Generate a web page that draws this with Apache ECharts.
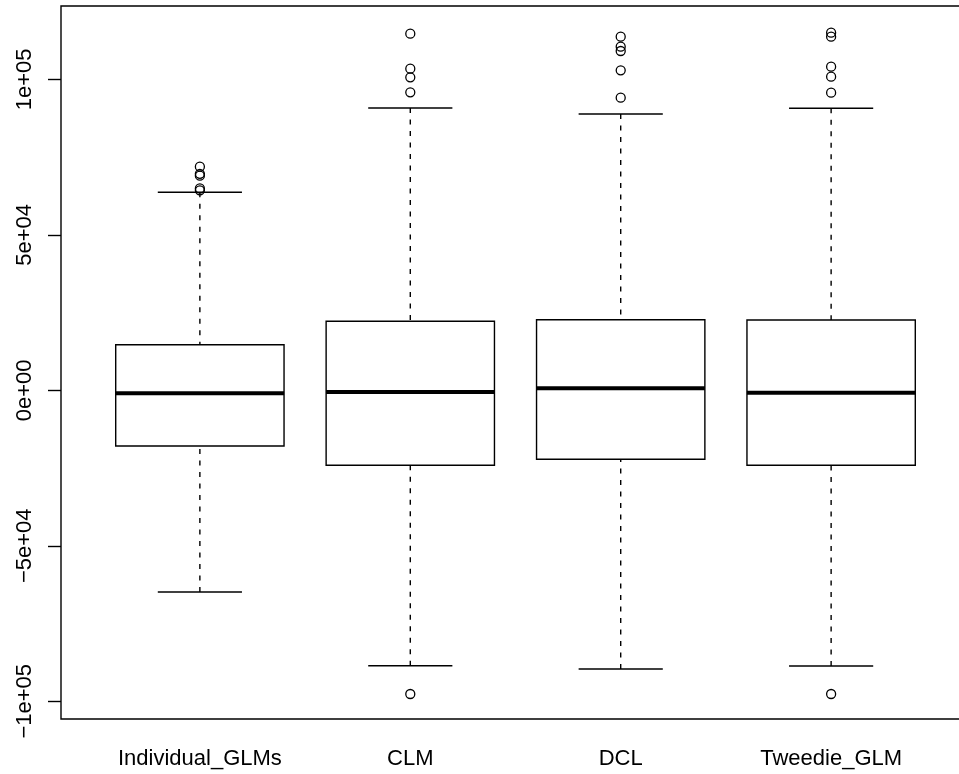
<!DOCTYPE html>
<html>
<head>
<meta charset="utf-8">
<script src="https://cdn.jsdelivr.net/npm/echarts@6/dist/echarts.min.js"></script>
<style>
  html, body { margin: 0; padding: 0; background: #fff; }
  #chart { width: 959px; height: 774px; }
</style>
</head>
<body>
<div id="chart"></div>
<script>
// Groups and their five-number summaries
const categories = ['Individual_GLMs', 'CLM', 'DCL', 'Tweedie_GLM'];
const whiskerLow = [-64860, -88550, -89610, -88650];
const q1Values = [-17910, -24120, -22190, -24120];
const medianValues = [-965, -550, 640, -770];
const q3Values = [14660, 22190, 22700, 22600];
const whiskerHigh = [63670, 90770, 88840, 90680];

// Points beyond the whiskers, per group
const outliersIndividual = [71900, 69600, 69000, 64900, 64300];
const outliersCLM = [114660, 103410, 100640, 95820, -97650];
const outliersDCL = [113700, 110480, 109100, 102890, 94080];
const outliersTweedie = [114980, 113700, 104050, 100840, 95690, -97650];

// Y axis ticks
const yTickValues = [-100000, -50000, 0, 50000, 100000];
const yTickLabels = ['\u22121e+05', '\u22125e+04', '0e+00', '5e+04', '1e+05'];

const outlierGroups = [outliersIndividual, outliersCLM, outliersDCL, outliersTweedie];

const boxData = categories.map((c, i) => [
  i + 1, whiskerLow[i], q1Values[i], medianValues[i], q3Values[i], whiskerHigh[i]
]);
const outlierData = [];
outlierGroups.forEach((arr, i) => arr.forEach(v => outlierData.push([i + 1, v])));

const FONT = 'Liberation Sans, Arial, Helvetica, sans-serif';
const LW = 1.4;

function renderBox(params, api) {
  const x = api.value(0);
  const lo = api.coord([x, api.value(1)]);
  const q1 = api.coord([x, api.value(2)]);
  const md = api.coord([x, api.value(3)]);
  const q3 = api.coord([x, api.value(4)]);
  const hi = api.coord([x, api.value(5)]);
  const boxW = api.size([0.8, 0])[0];
  const capW = api.size([0.4, 0])[0];
  const cx = lo[0];
  const thin = { stroke: '#000', lineWidth: LW, fill: null };
  const dashed = { stroke: '#000', lineWidth: LW, lineDash: [5, 6.5] };
  return {
    type: 'group',
    children: [
      { type: 'line', shape: { x1: cx, y1: hi[1], x2: cx, y2: q3[1] }, style: dashed },
      { type: 'line', shape: { x1: cx, y1: lo[1], x2: cx, y2: q1[1] }, style: dashed },
      { type: 'line', shape: { x1: cx - capW / 2, y1: hi[1], x2: cx + capW / 2, y2: hi[1] }, style: thin },
      { type: 'line', shape: { x1: cx - capW / 2, y1: lo[1], x2: cx + capW / 2, y2: lo[1] }, style: thin },
      { type: 'rect', shape: { x: cx - boxW / 2, y: q3[1], width: boxW, height: q1[1] - q3[1] },
        style: { stroke: '#000', lineWidth: LW, fill: '#fff' } },
      { type: 'line', shape: { x1: cx - boxW / 2, y1: md[1], x2: cx + boxW / 2, y2: md[1] },
        style: { stroke: '#000', lineWidth: 4 } }
    ]
  };
}

const chart = echarts.init(document.getElementById('chart'), null, { renderer: 'canvas' });
chart.setOption({
  animation: false,
  backgroundColor: '#fff',
  grid: {
    left: 61, top: 6, width: 909, height: 713,
    containLabel: false, outerBoundsMode: 'none',
    show: true, borderColor: '#000', borderWidth: LW, backgroundColor: 'transparent'
  },
  xAxis: {
    type: 'value',
    min: 0.34, max: 4.66,
    splitLine: { show: false },
    axisLine: { show: false },
    axisTick: { show: true, length: 14, customValues: [1, 2, 3, 4],
      lineStyle: { color: '#000', width: LW } },
    axisLabel: {
      customValues: [1, 2, 3, 4],
      formatter: v => categories[Math.round(v) - 1],
      margin: 29, color: '#000', fontSize: 22, fontFamily: FONT
    }
  },
  yAxis: {
    type: 'value',
    min: -105690, max: 123570,
    splitLine: { show: false },
    axisLine: { show: false },
    axisTick: { show: true, length: 13, customValues: yTickValues,
      lineStyle: { color: '#000', width: LW } },
    axisLabel: {
      customValues: yTickValues,
      formatter: v => yTickLabels[yTickValues.indexOf(v)],
      rotate: 90, margin: 25, color: '#000', fontSize: 22, fontFamily: FONT
    }
  },
  series: [
    {
      type: 'custom',
      renderItem: renderBox,
      encode: { x: 0, y: [1, 2, 3, 4, 5] },
      data: boxData,
      z: 2
    },
    {
      type: 'scatter',
      data: outlierData,
      symbol: 'circle',
      symbolSize: 9,
      itemStyle: { color: 'rgba(0,0,0,0)', borderColor: '#000', borderWidth: 1.3, opacity: 1 },
      z: 3
    }
  ]
});
</script>
</body>
</html>
